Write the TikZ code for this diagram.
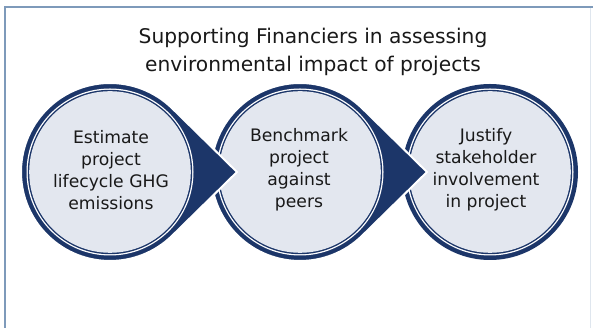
\documentclass[tikz,border=0pt]{standalone}
\usepackage{fontspec}
\setmainfont{DejaVu Sans}
\usetikzlibrary{calc}
\definecolor{navy}{HTML}{1C3669}
\definecolor{lightfill}{HTML}{E3E7EF}
\definecolor{framecol}{HTML}{7E9ABA}
\tikzset{
  tear/.style={fill=navy, draw=white, line width=2pt},
  steptext/.style={align=center, font=\fontsize{17.2}{22}\selectfont, text=black!90, inner sep=0pt},
  titletext/.style={align=center, font=\fontsize{20.2}{28}\selectfont, text=black!90, inner sep=0pt}
}
\newcommand{\ringfill}[1]{%
  \fill[white] (#1) circle[radius=83.5];
  \fill[navy] (#1) circle[radius=82.2];
  \fill[lightfill] (#1) circle[radius=80.8];
}
\newcommand{\stepcircle}[2]{%
  \path[tear] ($(#1)+(46:89)$) arc[start angle=46, end angle=314, radius=89] -- ($(#1)+(#2,0)$) -- cycle;
  \ringfill{#1}
}
\begin{document}
\begin{tikzpicture}[x=1pt,y=1pt]
\useasboundingbox (0,0) rectangle (593,328);
\fill[white] (0,0) rectangle (593,328);
\draw[framecol, line width=2pt] (5.3,0) -- (5.3,320.5) -- (593,320.5);
\draw[framecol!25, line width=1pt] (590,0) -- (590,319.5);
\coordinate (c1) at (110,156);
\coordinate (c2) at (300,156);
\coordinate (c3) at (490,156);
\fill[navy] (c3) circle[radius=88];
\ringfill{c3}
\stepcircle{c2}{127}
\stepcircle{c1}{127}
\node[titletext] (title) at (313,276) {Supporting Financiers in assessing\\environmental impact of projects};
\node[steptext] (t1) at (111,158) {Estimate\\project\\lifecycle GHG\\emissions};
\node[steptext] (t2) at (299,158) {Benchmark\\project\\against\\peers};
\node[steptext] (t3) at (486,158) {Justify\\stakeholder\\involvement\\in project};
\end{tikzpicture}
\end{document}
